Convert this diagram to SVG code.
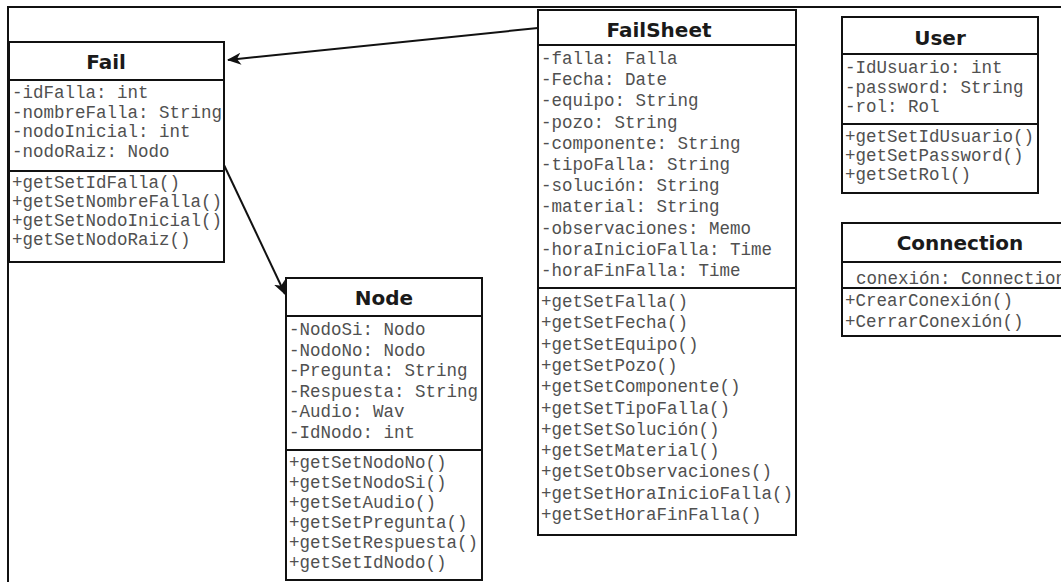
<svg xmlns="http://www.w3.org/2000/svg" width="1061" height="582" viewBox="0 0 1061 582">
<style>
.box{fill:#fff;stroke:#111;stroke-width:2}
.div{stroke:#111;stroke-width:2}
.title{font-family:"DejaVu Sans",Verdana,sans-serif;font-weight:bold;font-size:20px;fill:#1a1a1a;text-anchor:middle}
.m{font-family:"Liberation Mono","Courier New",monospace;font-size:17.5px;fill:#505050}
.conn{stroke:#111;stroke-width:2;fill:none}
</style>
<defs>
<marker id="arr" markerWidth="14" markerHeight="12" refX="13" refY="6" orient="auto" markerUnits="userSpaceOnUse">
<path d="M0,0 L14,6 L0,12 L4,6 z" fill="#111"/>
</marker>
</defs>
<rect width="1061" height="582" fill="#fff"/>
<path d="M8,582 V7 H1061" fill="none" stroke="#111" stroke-width="2"/>

<g id="connectors">
<line class="conn" x1="538" y1="28" x2="228" y2="60" marker-end="url(#arr)"/>
<line class="conn" x1="224" y1="165" x2="285" y2="294" marker-end="url(#arr)"/>
</g>

<g id="fail">
<rect class="box" x="9" y="42" width="215" height="220"/>
<line class="div" x1="9" y1="80" x2="224" y2="80"/>
<line class="div" x1="9" y1="171" x2="224" y2="171"/>
<text class="title" x="106" y="69">Fail</text>
<text class="m" x="12" y="98">-idFalla: int</text>
<text class="m" x="12" y="117.5">-nombreFalla: String</text>
<text class="m" x="12" y="137">-nodoInicial: int</text>
<text class="m" x="12" y="156.5">-nodoRaiz: Nodo</text>
<text class="m" x="12" y="188">+getSetIdFalla()</text>
<text class="m" x="12" y="207">+getSetNombreFalla()</text>
<text class="m" x="12" y="226">+getSetNodoInicial()</text>
<text class="m" x="12" y="245">+getSetNodoRaiz()</text>
</g>

<g id="node">
<rect class="box" x="286" y="278" width="196" height="302"/>
<line class="div" x1="286" y1="316" x2="482" y2="316"/>
<line class="div" x1="286" y1="450" x2="482" y2="450"/>
<text class="title" x="384" y="305">Node</text>
<text class="m" x="289" y="335">-NodoSi: Nodo</text>
<text class="m" x="289" y="355.5">-NodoNo: Nodo</text>
<text class="m" x="289" y="376">-Pregunta: String</text>
<text class="m" x="289" y="396.5">-Respuesta: String</text>
<text class="m" x="289" y="417">-Audio: Wav</text>
<text class="m" x="289" y="437.5">-IdNodo: int</text>
<text class="m" x="289" y="468">+getSetNodoNo()</text>
<text class="m" x="289" y="488">+getSetNodoSi()</text>
<text class="m" x="289" y="508">+getSetAudio()</text>
<text class="m" x="289" y="528">+getSetPregunta()</text>
<text class="m" x="289" y="548">+getSetRespuesta()</text>
<text class="m" x="289" y="568">+getSetIdNodo()</text>
</g>

<g id="failsheet">
<rect class="box" x="538" y="10" width="258" height="525"/>
<line class="div" x1="538" y1="45" x2="796" y2="45"/>
<line class="div" x1="538" y1="288" x2="796" y2="288"/>
<text class="title" x="659" y="37">FailSheet</text>
<text class="m" x="541" y="64">-falla: Falla</text>
<text class="m" x="541" y="85.2">-Fecha: Date</text>
<text class="m" x="541" y="106.4">-equipo: String</text>
<text class="m" x="541" y="127.6">-pozo: String</text>
<text class="m" x="541" y="148.8">-componente: String</text>
<text class="m" x="541" y="170">-tipoFalla: String</text>
<text class="m" x="541" y="191.2">-solución: String</text>
<text class="m" x="541" y="212.4">-material: String</text>
<text class="m" x="541" y="233.6">-observaciones: Memo</text>
<text class="m" x="541" y="254.8">-horaInicioFalla: Time</text>
<text class="m" x="541" y="276">-horaFinFalla: Time</text>
<text class="m" x="541" y="307">+getSetFalla()</text>
<text class="m" x="541" y="328.3">+getSetFecha()</text>
<text class="m" x="541" y="349.6">+getSetEquipo()</text>
<text class="m" x="541" y="370.9">+getSetPozo()</text>
<text class="m" x="541" y="392.2">+getSetComponente()</text>
<text class="m" x="541" y="413.5">+getSetTipoFalla()</text>
<text class="m" x="541" y="434.8">+getSetSolución()</text>
<text class="m" x="541" y="456.1">+getSetMaterial()</text>
<text class="m" x="541" y="477.4">+getSetObservaciones()</text>
<text class="m" x="541" y="498.7">+getSetHoraInicioFalla()</text>
<text class="m" x="541" y="520">+getSetHoraFinFalla()</text>
</g>

<g id="user">
<rect class="box" x="842" y="17" width="196" height="176"/>
<line class="div" x1="842" y1="54" x2="1038" y2="54"/>
<line class="div" x1="842" y1="124" x2="1038" y2="124"/>
<text class="title" x="940" y="45">User</text>
<text class="m" x="845" y="73">-IdUsuario: int</text>
<text class="m" x="845" y="92.5">-password: String</text>
<text class="m" x="845" y="112">-rol: Rol</text>
<text class="m" x="845" y="142">+getSetIdUsuario()</text>
<text class="m" x="845" y="161">+getSetPassword()</text>
<text class="m" x="845" y="180">+getSetRol()</text>
</g>

<g id="connection">
<rect class="box" x="842" y="223" width="236" height="113"/>
<line class="div" x1="842" y1="262" x2="1078" y2="262"/>
<line class="div" x1="842" y1="288" x2="1078" y2="288"/>
<text class="title" x="960" y="250">Connection</text>
<text class="m" x="856" y="284">conexión: Connection</text>
<text class="m" x="845" y="306">+CrearConexión()</text>
<text class="m" x="845" y="327">+CerrarConexión()</text>
</g>
</svg>
